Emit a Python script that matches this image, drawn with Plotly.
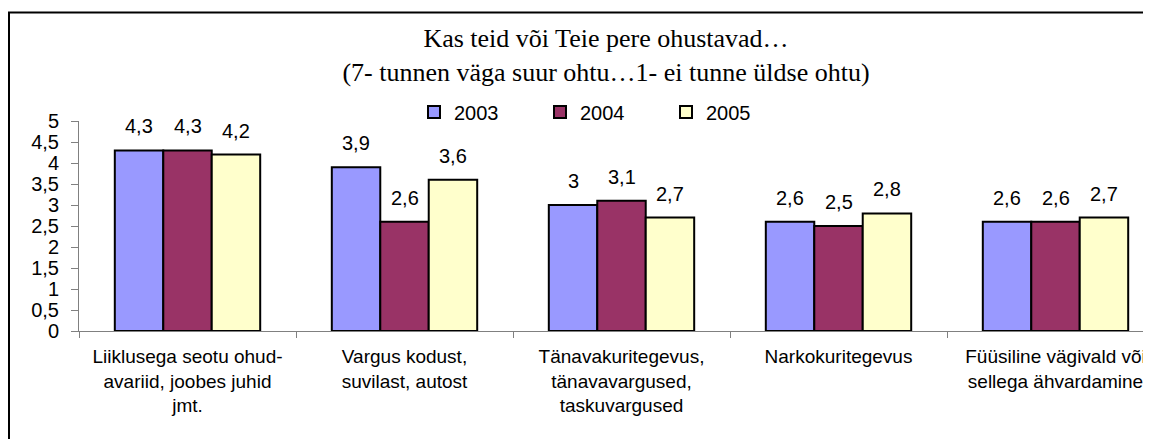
import plotly.graph_objects as go

categories = [
    "Liiklusega seotu ohud-<br>avariid, joobes juhid<br>jmt.",
    "Vargus kodust,<br>suvilast, autost",
    "Tänavakuritegevus,<br>tänavavargused,<br>taskuvargused",
    "Narkokuritegevus",
    "Füüsiline vägivald või<br>sellega ähvardamine",
]
years = ["2003", "2004", "2005"]
values_2003 = [4.3, 3.9, 3.0, 2.6, 2.6]
values_2004 = [4.3, 2.6, 3.1, 2.5, 2.6]
values_2005 = [4.2, 3.6, 2.7, 2.8, 2.7]
series = [values_2003, values_2004, values_2005]
colors = ["#9999FF", "#993366", "#FFFFCC"]
y_ticks = [0, 0.5, 1, 1.5, 2, 2.5, 3, 3.5, 4, 4.5, 5]

# page body has an 8px margin, so the figure is drawn 8px in from the window corner;
# the figure is allowed to run past the window's right and bottom edges (like the reference crop)
OFF = 8
W, H = 1151, 439
L = 79 - OFF          # left edge of plot area
PT = 121 - OFF        # top of plot area
PB = 331 - OFF        # bottom of plot area
T, B = PT, H - PB
cat_px = 217.0
plot_w = W - L
plot_h = PB - PT
bargap = 0.33
bar_px = cat_px * (1 - bargap) / 3

FONT = "Liberation Sans, Arial, sans-serif"

fig = go.Figure()
for name, vals, col in zip(years, series, colors):
    fig.add_trace(go.Bar(
        name=name, x=categories, y=vals,
        marker=dict(color=col, line=dict(color="black", width=2)),
    ))

for j, vals in enumerate(series):
    for c, v in zip(categories, vals):
        fig.add_annotation(
            x=c, y=v, xref="x", yref="y",
            text=f"{v:g}".replace(".", ","),
            showarrow=False, yanchor="bottom",
            xshift=(j - 1) * bar_px, yshift=11,
            font=dict(family=FONT, size=20, color="black"),
        )

# chart frame (extends beyond right and bottom edges of the picture)
fig.add_shape(
    type="rect", xref="paper", yref="paper",
    x0=(1 - L) / plot_w, x1=1.2,
    y0=-1.0, y1=(PB - 4.5) / plot_h,
    line=dict(color="black", width=2), fillcolor="rgba(0,0,0,0)",
    layer="below",
)

fig.update_layout(
    width=W, height=H,
    margin=dict(l=L, r=0, t=T, b=B, pad=0),
    paper_bgcolor="white", plot_bgcolor="white",
    barmode="group", bargap=bargap, bargroupgap=0,
    separators=", ",
    title=dict(
        text="Kas teid või Teie pere ohustavad…<br>(7- tunnen väga suur ohtu…1- ei tunne üldse ohtu)",
        x=(606 - OFF) / W, xanchor="center", xref="container",
        y=1 - (47 - OFF) / H, yanchor="top", yref="container",
        font=dict(family="Liberation Serif, Times New Roman, serif", size=26, color="black"),
    ),
    legend=dict(
        orientation="h", x=(414 - OFF - L) / plot_w, xanchor="left",
        y=(PB - (112 - OFF)) / plot_h, yanchor="middle",
        font=dict(family=FONT, size=20, color="black"),
        entrywidth=81, bgcolor="rgba(0,0,0,0)",
        traceorder="normal",
    ),
    showlegend=True,
    xaxis=dict(
        range=[-0.5, -0.5 + plot_w / cat_px],
        showline=True, linecolor="#808080", linewidth=1,
        ticks="outside", tickson="boundaries", ticklen=6, tickcolor="#808080",
        ticklabelstandoff=8,
        tickfont=dict(family=FONT, size=19, color="black"),
        showgrid=False, zeroline=False,
    ),
    yaxis=dict(
        range=[0, 5], tickvals=y_ticks,
        showline=True, linecolor="#808080", linewidth=1,
        ticks="outside", ticklen=7, tickcolor="#808080",
        ticklabelstandoff=8,
        tickfont=dict(family=FONT, size=20, color="black"),
        showgrid=False, zeroline=False,
    ),
)

fig.write_html("out.html")
